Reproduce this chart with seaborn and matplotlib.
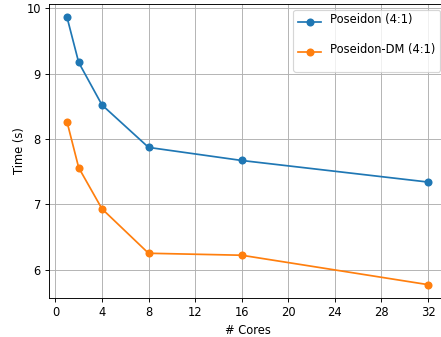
import pandas as pd
import matplotlib
matplotlib.use("Agg")
import matplotlib.pyplot as plt
import seaborn as sns

# Data
cores = [1, 2, 4, 8, 16, 32]
poseidon = [9.86, 9.17, 8.52, 7.87, 7.67, 7.34]
poseidon_dm = [8.26, 7.56, 6.93, 6.25, 6.22, 5.77]

df = pd.DataFrame({
    "cores": cores * 2,
    "time": poseidon + poseidon_dm,
    "variant": ["Poseidon (4:1)"] * len(cores) + ["Poseidon-DM (4:1)"] * len(cores),
})

dpi = 83
fig = plt.figure(figsize=(441 / dpi, 337 / dpi), dpi=dpi)
ax = fig.add_axes([49 / 441, 39 / 337, 397 / 441, 294 / 337])

sns.lineplot(data=df, x="cores", y="time", hue="variant", marker="o",
             markeredgewidth=0, markersize=7, palette=["tab:blue", "tab:orange"], ax=ax)

ax.set_xticks(range(0, 33, 4))
ax.set_yticks([6, 7, 8, 9, 10])
ax.set_xlabel("# Cores")
ax.set_ylabel("Time (s)", labelpad=0.5)
ax.grid(True)
leg = ax.legend(title=None, loc="upper right", handleheight=2.67, labelspacing=0.6)
# labels sit a bit above their markers in the original
for t in leg.get_texts():
    t.set_position((0, 6))

plt.savefig("out.png", dpi=dpi)
